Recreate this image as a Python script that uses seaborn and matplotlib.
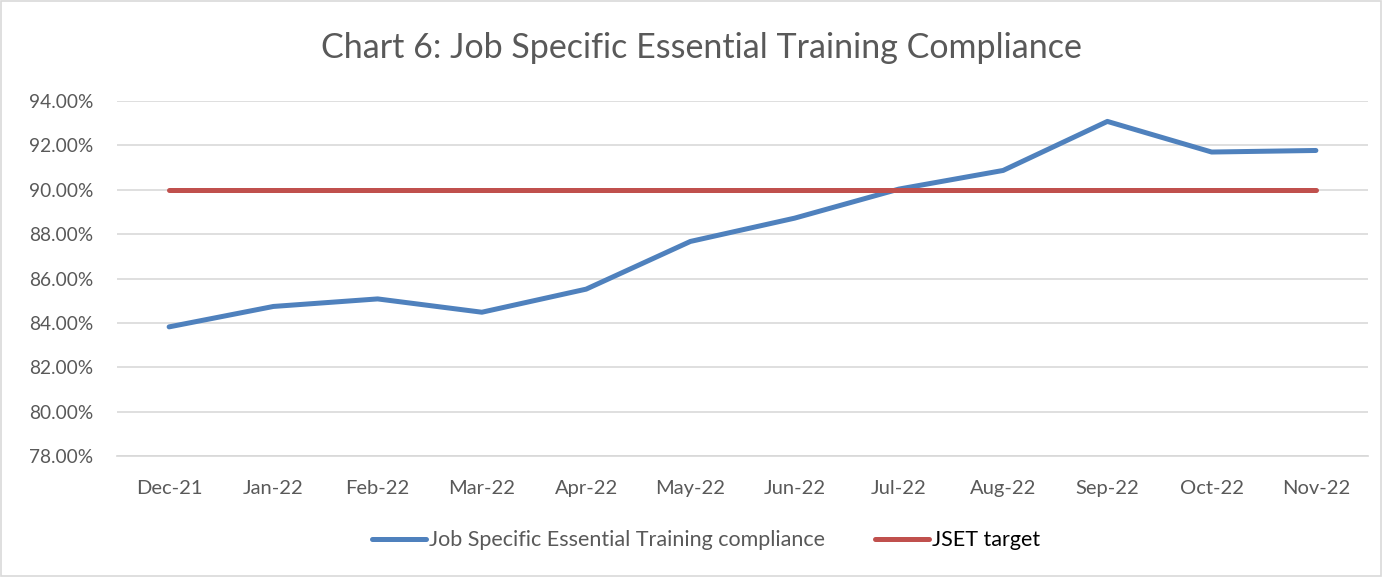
import matplotlib.pyplot as plt
import numpy as np
import pandas as pd
import seaborn as sns

months = ["Dec-21", "Jan-22", "Feb-22", "Mar-22", "Apr-22", "May-22",
          "Jun-22", "Jul-22", "Aug-22", "Sep-22", "Oct-22", "Nov-22"]
compliance = [83.82, 84.74, 85.08, 84.48, 85.52, 87.67,
              88.72, 90.03, 90.87, 93.08, 91.70, 91.77]
target = [90.0] * 12
series_names = ["Job Specific Essential Training compliance", "JSET target"]

# long-form frame for seaborn
df = pd.DataFrame({
    "month": months * 2,
    "pos": list(range(len(months))) * 2,
    "value": compliance + target,
    "series": [series_names[0]] * len(months) + [series_names[1]] * len(months),
})

sns.set_theme(style="white")
plt.rcParams["font.family"] = ["Lato", "DejaVu Sans"]

fig = plt.figure(figsize=(13.82, 5.77), dpi=100)
ax = fig.add_axes([117 / 1382, 1 - 456 / 577, (1368 - 117) / 1382, (456 - 101) / 577])

sns.lineplot(
    data=df, x="pos", y="value", hue="series", ax=ax,
    palette={series_names[0]: "#4F81BD", series_names[1]: "#C0504D"},
    linewidth=3.6, solid_capstyle="round", legend=True,
)

# Axes
ax.set_xlim(-0.5, len(months) - 0.5)
ax.set_ylim(78, 94)
yticks = np.arange(78, 94.1, 2)
ax.set_yticks(yticks)
ax.set_yticklabels([f"{v:.2f}%" for v in yticks], fontsize=13.8, color="#595959")
ax.set_xticks(range(len(months)))
ax.set_xticklabels(months, fontsize=14.5, color="#595959")
ax.set_xticks(np.arange(-0.5, len(months)), minor=True)
ax.tick_params(axis="x", which="major", length=0, pad=17)
ax.tick_params(axis="x", which="minor", length=6, color="#D9D9D9", width=1)
ax.tick_params(axis="y", length=0, pad=17)
ax.set_xlabel("")
ax.set_ylabel("")
ax.grid(axis="y", color="#D9D9D9", linewidth=1.2)
ax.set_axisbelow(True)
for side in ["top", "right", "left"]:
    ax.spines[side].set_visible(False)
ax.spines["bottom"].set_color("#D9D9D9")

# Title
fig.text(701 / 1382, 1 - 48 / 577, "Chart 6: Job Specific Essential Training Compliance",
         ha="center", va="center", fontsize=24.5, color="#595959")

# Legend
handles, labels = ax.get_legend_handles_labels()
leg = ax.legend(handles, labels, loc="center", bbox_to_anchor=(0.471, -0.237),
                ncol=2, frameon=False, fontsize=15.5, handlelength=2.5,
                columnspacing=2.3, handletextpad=0.15)
leg.get_texts()[0].set_color("#595959")
leg.get_texts()[1].set_color("black")

# Outer border
fig.patches.append(plt.Rectangle((0.001, 0.002), 0.998, 0.996, transform=fig.transFigure,
                                 fill=False, edgecolor="#D9D9D9", linewidth=1.2))

fig.savefig("out.png", dpi=100)
